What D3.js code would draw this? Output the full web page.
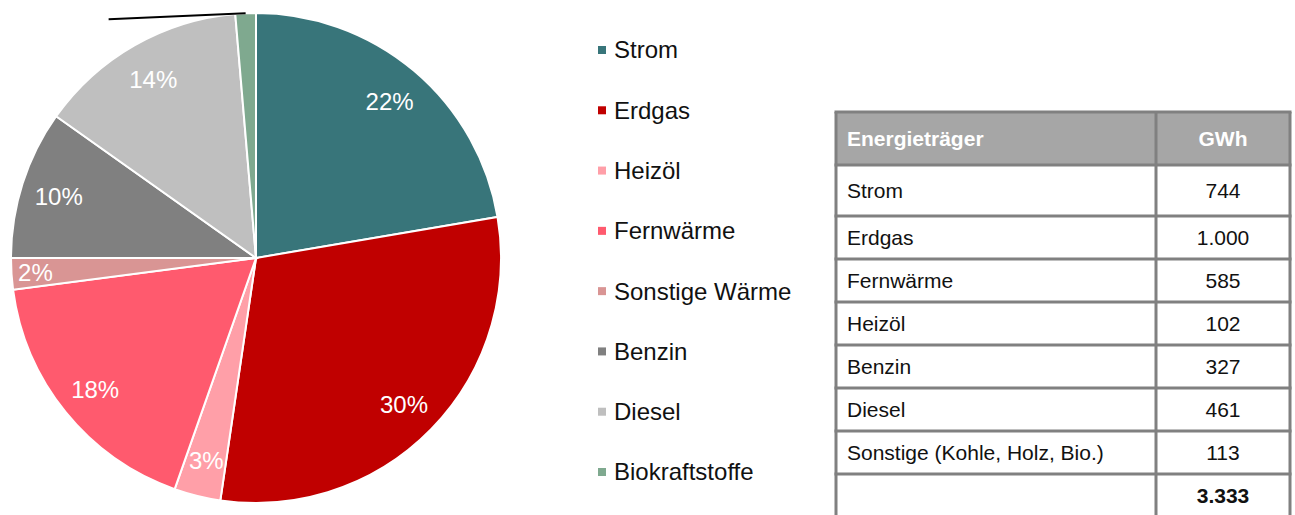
<!DOCTYPE html>
<html>
<head>
<meta charset="utf-8">
<script src="https://cdn.jsdelivr.net/npm/d3@7"></script>
<style>
  body { margin: 0; background: #fff; }
  text { font-family: "Liberation Sans", Arial, sans-serif; }
</style>
</head>
<body>
<div id="chart"></div>
<script>
// pie data (GWh)
var categories = ['Strom', 'Erdgas', 'Heizöl', 'Fernwärme', 'Sonstige Wärme', 'Benzin', 'Diesel', 'Biokraftstoffe'];
var values = [744, 1000, 102, 585, 69, 327, 461, 45];
var colors = ['#38757a', '#c00000', '#ff9fa8', '#ff5a6e', '#d99594', '#808080', '#bfbfbf', '#7fa98f'];

// table data
var tableLabels = ['Strom', 'Erdgas', 'Fernwärme', 'Heizöl', 'Benzin', 'Diesel', 'Sonstige (Kohle, Holz, Bio.)'];
var tableValues = [744, 1000, 585, 102, 327, 461, 113];
var tableTotal = 3333;

var width = 1295, height = 515;
var svg = d3.select('#chart').append('svg')
    .attr('width', width)
    .attr('height', height);

var cx = 256, cy = 258, radius = 245;
var total = d3.sum(values);

var pie = d3.pie().sort(null).value(function(d) { return d; });
var arc = d3.arc().innerRadius(0).outerRadius(radius);
var labelArc = d3.arc().innerRadius(207).outerRadius(207);

var g = svg.append('g')
    .attr('transform', 'translate(' + cx + ',' + cy + ')');

var arcs = pie(values);

g.selectAll('path')
    .data(arcs)
  .enter().append('path')
    .attr('d', arc)
    .attr('fill', function(d, i) { return colors[i]; })
    .attr('stroke', '#fff')
    .attr('stroke-width', 2);

// percentage labels (not for the tiny biofuel slice)
g.selectAll('.lbl')
    .data(arcs.filter(function(d) { return d.value / total >= 0.015; }))
  .enter().append('text')
    .attr('class', 'lbl')
    .attr('transform', function(d) {
      var c = labelArc.centroid(d);
      if (d.index === 4) c[0] -= 14;   // small slice label sits further out
      return 'translate(' + c + ')';
    })
    .attr('text-anchor', 'middle')
    .attr('dy', '0.42em')
    .attr('fill', '#fff')
    .style('font-size', '24px')
    .text(function(d) { return Math.round(d.value / total * 100) + '%'; });

// leader line of the biofuel slice
var bio = arcs[arcs.length - 1];
var mid = (bio.startAngle + bio.endAngle) / 2;
var p0 = [Math.sin(mid) * radius, -Math.cos(mid) * radius];
g.append('line')
    .attr('x1', p0[0]).attr('y1', p0[1])
    .attr('x2', p0[0] - 137).attr('y2', p0[1] + 6)
    .attr('stroke', '#000')
    .attr('stroke-width', 2);

// legend
var legendY = d3.scalePoint().domain(categories).range([50, 472]);
var legend = svg.append('g');
var item = legend.selectAll('g')
    .data(categories)
  .enter().append('g')
    .attr('transform', function(d) { return 'translate(598,' + legendY(d) + ')'; });
item.append('rect')
    .attr('x', 0).attr('y', -4)
    .attr('width', 8).attr('height', 8)
    .attr('fill', function(d, i) { return colors[i]; });
item.append('text')
    .attr('x', 16)
    .attr('dy', '0.35em')
    .style('font-size', '24px')
    .attr('fill', '#111')
    .text(function(d) { return d; });

// table
var de = d3.formatLocale({decimal: ',', thousands: '.', grouping: [3], currency: ['', ' €']});
var fmt = de.format(',d');

var tx0 = 836, tx1 = 1156, tx2 = 1290;
var headerTop = 112, headerBottom = 165, firstRowBottom = 216, rowH = 43;
var rowTops = [headerBottom, firstRowBottom];
for (var i = 2; i <= tableLabels.length; i++) rowTops.push(firstRowBottom + (i - 1) * rowH);
var tableBottom = rowTops[rowTops.length - 1] + rowH;

var tbl = svg.append('g');
tbl.append('rect')
    .attr('x', tx0).attr('y', headerTop)
    .attr('width', tx2 - tx0).attr('height', headerBottom - headerTop)
    .attr('fill', '#a6a6a6');

tbl.append('text')
    .attr('x', 847).attr('y', (headerTop + headerBottom) / 2)
    .attr('dy', '0.35em')
    .attr('fill', '#fff')
    .style('font-size', '21px').style('font-weight', 'bold')
    .text('Energieträger');
tbl.append('text')
    .attr('x', (tx1 + tx2) / 2).attr('y', (headerTop + headerBottom) / 2)
    .attr('dy', '0.35em')
    .attr('text-anchor', 'middle')
    .attr('fill', '#fff')
    .style('font-size', '21px').style('font-weight', 'bold')
    .text('GWh');

var rows = tableLabels.map(function(d, i) {
  return {label: d, value: fmt(tableValues[i]), top: rowTops[i], bottom: rowTops[i + 1]};
});
rows.push({label: '', value: fmt(tableTotal), top: rowTops[rowTops.length - 1], bottom: tableBottom, bold: true});

var row = tbl.selectAll('.row')
    .data(rows)
  .enter().append('g')
    .attr('class', 'row');
row.append('text')
    .attr('x', 847)
    .attr('y', function(d) { return (d.top + d.bottom) / 2; })
    .attr('dy', '0.35em')
    .attr('fill', '#111')
    .style('font-size', '21px')
    .text(function(d) { return d.label; });
row.append('text')
    .attr('x', (tx1 + tx2) / 2)
    .attr('y', function(d) { return (d.top + d.bottom) / 2; })
    .attr('dy', '0.35em')
    .attr('text-anchor', 'middle')
    .attr('fill', '#111')
    .style('font-size', '21px')
    .style('font-weight', function(d) { return d.bold ? 'bold' : 'normal'; })
    .text(function(d) { return d.value; });

// grid lines
var lineColor = '#808080';
[headerTop].concat(rowTops).forEach(function(y) {
  tbl.append('line')
      .attr('x1', tx0 - 1.5).attr('x2', tx2 + 1.5)
      .attr('y1', y).attr('y2', y)
      .attr('stroke', lineColor).attr('stroke-width', 3);
});
[tx0, tx1, tx2].forEach(function(x) {
  tbl.append('line')
      .attr('x1', x).attr('x2', x)
      .attr('y1', headerTop).attr('y2', tableBottom)
      .attr('stroke', lineColor).attr('stroke-width', 3);
});
</script>
</body>
</html>
